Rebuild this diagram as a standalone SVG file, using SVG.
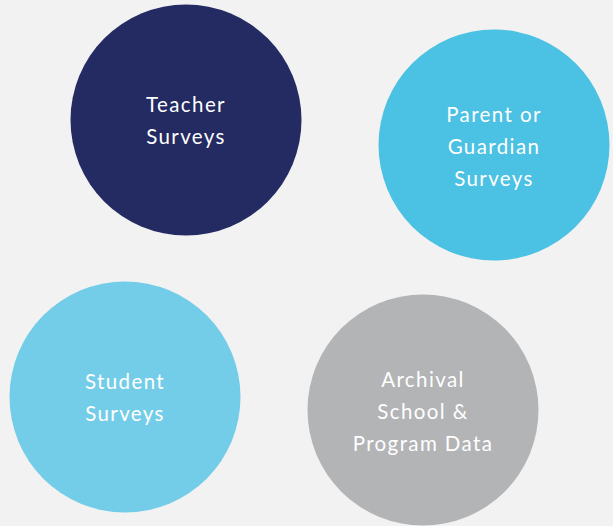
<svg xmlns="http://www.w3.org/2000/svg" width="613" height="526" viewBox="0 0 613 526">
<style>
text{font-family:Lato,"Open Sans",sans-serif;font-size:20.5px;fill:#ffffff;text-anchor:middle;letter-spacing:1.4px}
</style>
<rect width="613" height="526" fill="#f2f2f2"/>
<g id="teacher">
<circle cx="186" cy="120" r="115.5" fill="#232b62"/>
<text x="186" y="112">Teacher</text>
<text x="186" y="144">Surveys</text>
</g>
<g id="parent">
<circle cx="494" cy="145" r="115.5" fill="#4bc1e3"/>
<text x="494" y="122">Parent or</text>
<text x="494" y="154">Guardian</text>
<text x="494" y="186">Surveys</text>
</g>
<g id="student">
<circle cx="125" cy="397" r="115.5" fill="#74cde8"/>
<text x="125" y="389">Student</text>
<text x="125" y="421">Surveys</text>
</g>
<g id="archival">
<circle cx="423" cy="410" r="115.5" fill="#b3b4b6"/>
<text x="423" y="387">Archival</text>
<text x="423" y="419">School &amp;</text>
<text x="423" y="451">Program Data</text>
</g>
<g id="connectors"/>
</svg>
